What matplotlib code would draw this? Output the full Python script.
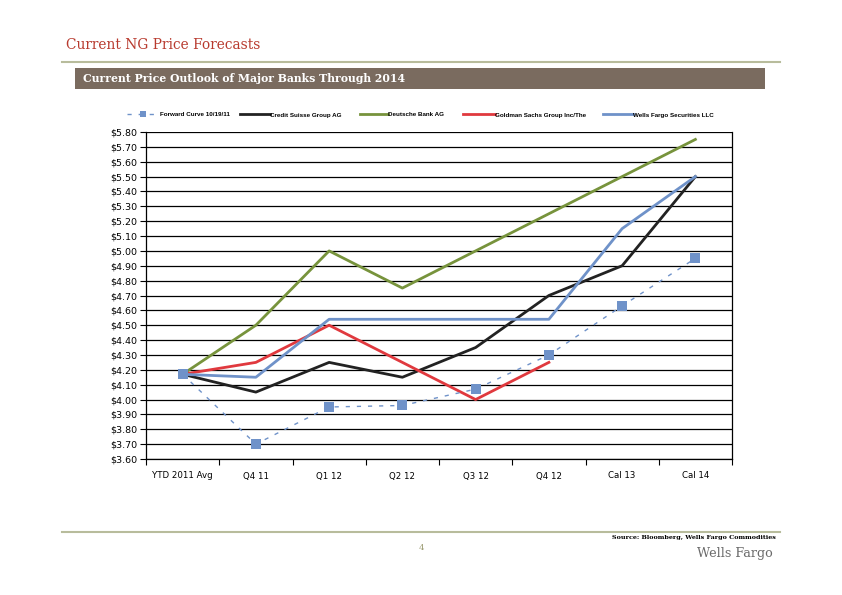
import matplotlib
matplotlib.use("Agg")
import matplotlib.pyplot as plt
from matplotlib.lines import Line2D
from matplotlib.patches import Rectangle
from matplotlib import font_manager
from matplotlib.font_manager import FontProperties

categories = ["YTD 2011 Avg", "Q4 11", "Q1 12", "Q2 12", "Q3 12", "Q4 12", "Cal 13", "Cal 14"]
forward_curve = [4.17, 3.70, 3.95, 3.96, 4.07, 4.30, 4.63, 4.95]
credit_suisse = [4.17, 4.05, 4.25, 4.15, 4.35, 4.70, 4.90, 5.50]
deutsche_bank = [4.17, 4.50, 5.00, 4.75, 5.00, 5.25, 5.50, 5.75]
goldman_sachs = [4.17, 4.25, 4.50, 4.25, 4.00, 4.25]
wells_fargo = [4.17, 4.15, 4.54, 4.54, 4.54, 4.54, 5.15, 5.50]
series_names = ["Forward Curve 10/19/11", "Credit Suisse Group AG", "Deutsche Bank AG",
                "Goldman Sachs Group Inc/The", "Wells Fargo Securities LLC"]
y_ticks = [3.60 + 0.10 * i for i in range(23)]

W, H = 842, 595
fig = plt.figure(figsize=(W / 100, H / 100), dpi=100)

def fx(px):
    return px / W

def fy(py):
    return 1 - py / H

olive = "#B8BC9C"
serif = "DejaVu Serif"

try:
    font_manager.findfont(FontProperties(family="Liberation Sans Narrow", weight="bold"),
                          fallback_to_default=False)
    legend_family, legend_size = "Liberation Sans Narrow", 5.4
except Exception:
    legend_family, legend_size = "Liberation Sans", 4.5

# header
fig.text(fx(66), fy(45), "Current NG Price Forecasts", color="#B83A2E", fontsize=9.9,
         family=serif, va="center", ha="left")
fig.add_artist(Line2D([fx(62), fx(780)], [fy(62), fy(62)], color=olive, lw=1.5))
fig.add_artist(Rectangle((fx(75), fy(89)), fx(765) - fx(75), fy(68) - fy(89),
                         facecolor="#7A6B5F", edgecolor="none", transform=fig.transFigure))
fig.text(fx(83), fy(79), "Current Price Outlook of Major Banks Through 2014", color="white",
         fontsize=7.8, family=serif, weight="bold", va="center", ha="left")

# axes
ax = fig.add_axes([fx(146), fy(459), fx(732) - fx(146), fy(132) - fy(459)])
x = list(range(len(categories)))

c_black = "#222222"
c_green = "#77933C"
c_red = "#E0393E"
c_blue = "#6F92C9"

styles = [
    dict(color=c_blue, lw=1.0, ls=(0, (3, 5)), marker="s", ms=6.5, markeredgewidth=0),
    dict(color=c_black, lw=2.0),
    dict(color=c_green, lw=2.0),
    dict(color=c_red, lw=2.0),
    dict(color=c_blue, lw=2.0),
]
data = [forward_curve, credit_suisse, deutsche_bank, goldman_sachs, wells_fargo]
zorders = [4, 3, 3, 3, 3]
for vals, st, name, z in zip(data, styles, series_names, zorders):
    ax.plot(x[:len(vals)], vals, label=name, zorder=z, **st)

ax.set_xlim(-0.5, len(categories) - 0.5)
ax.set_ylim(3.60, 5.80)
ax.set_yticks(y_ticks)
ax.set_yticklabels([f"${v:.2f}" for v in y_ticks], fontsize=6.8)
ax.set_xticks(x)
ax.set_xticklabels(categories, fontsize=6.2)
ax.set_xticks([i - 0.5 for i in range(len(categories) + 1)], minor=True)
ax.tick_params(axis="x", which="major", length=0, pad=9)
ax.tick_params(axis="x", which="minor", length=4, width=0.8, direction="out")
ax.tick_params(axis="y", length=4, width=0.8, direction="out", pad=2)
ax.grid(axis="y", color="black", lw=0.9)
ax.set_axisbelow(True)
for s in ["left", "bottom", "right"]:
    ax.spines[s].set_linewidth(0.9)
ax.spines["top"].set_visible(False)

# legend (manual layout to match the reference)
leg_y = fy(114)
text_base = fy(116.5)
handle_px = [(127, 158), (240, 270), (360, 388), (463, 495), (603, 633)]
text_px = [160, 270, 388, 495, 633]
for st, name, (h0, h1), tx in zip(styles, series_names, handle_px, text_px):
    st2 = dict(st)
    if "marker" in st2:
        st2["ms"] = 5
        ln = Line2D([fx(h0), fx((h0 + h1) / 2), fx(h1)], [leg_y] * 3, markevery=[1], **st2)
    else:
        ln = Line2D([fx(h0), fx(h1)], [leg_y] * 2, **st2)
    fig.add_artist(ln)
    fig.text(fx(tx), text_base, name, fontsize=legend_size, family=legend_family, weight="bold",
             ha="left", va="baseline", color="black")

# footer
fig.add_artist(Line2D([fx(62), fx(780)], [fy(532), fy(532)], color=olive, lw=1.5))
fig.text(fx(776), fy(538), "Source: Bloomberg, Wells Fargo Commodities", fontsize=4.6,
         family=serif, weight="bold", ha="right", va="center", color="black")
fig.text(fx(421), fy(548), "4", fontsize=6, family=serif, ha="center", va="center", color="#9A9A70")
fig.text(fx(773), fy(554), "Wells Fargo", fontsize=9.2, family=serif, ha="right", va="center",
         color="#6A6A6A")

fig.savefig("out.png", dpi=100)
